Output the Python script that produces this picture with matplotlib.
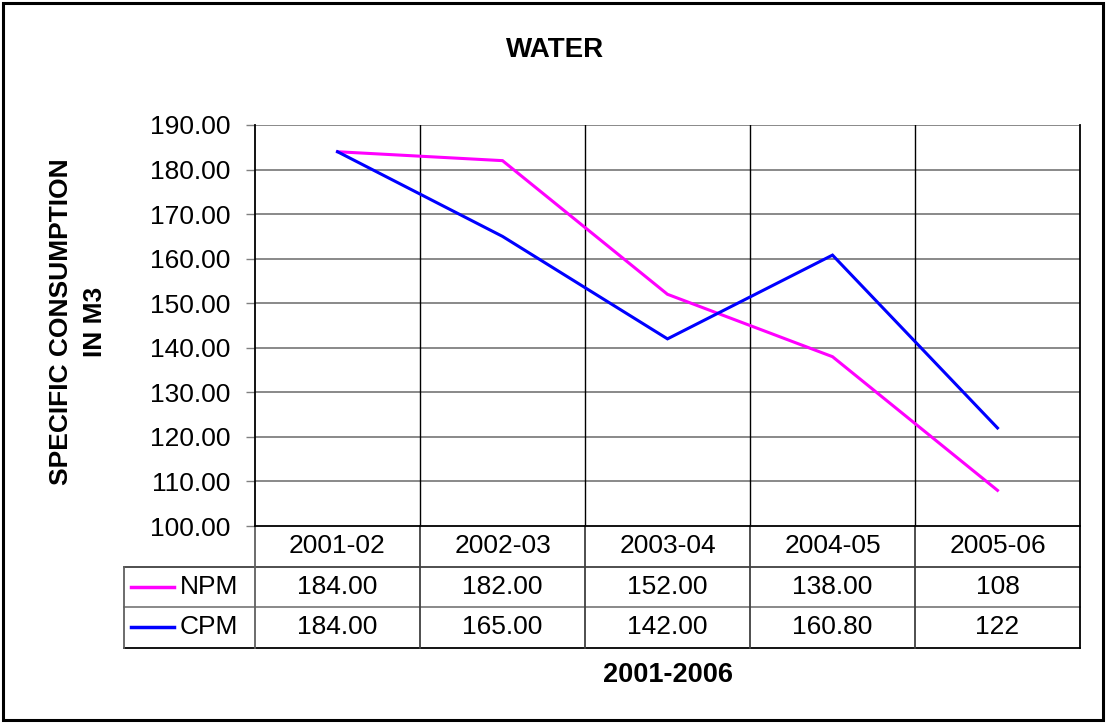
import matplotlib
matplotlib.use("Agg")
import matplotlib.pyplot as plt
import matplotlib.transforms as mtransforms
from matplotlib.patches import Rectangle
from matplotlib.lines import Line2D

periods = ["2001-02", "2002-03", "2003-04", "2004-05", "2005-06"]
npm = [184.0, 182.0, 152.0, 138.0, 108.0]
cpm = [184.0, 165.0, 142.0, 160.8, 122.0]
npm_labels = ["184.00", "182.00", "152.00", "138.00", "108"]
cpm_labels = ["184.00", "165.00", "142.00", "160.80", "122"]
y_ticks = [100, 110, 120, 130, 140, 150, 160, 170, 180, 190]

plt.rcParams['font.family'] = ['Liberation Sans', 'DejaVu Sans']
FS = 19

W, H = 1109, 723
fig = plt.figure(figsize=(W / 100, H / 100), dpi=100)
ax = fig.add_axes([255 / W, 1 - 526 / H, 825 / W, 401 / H])

x = list(range(len(periods)))
ax.plot(x, npm, color="#ff00ff", lw=2.2, solid_joinstyle="miter")
ax.plot(x, cpm, color="#0000ff", lw=2.2, solid_joinstyle="miter")

ax.set_xlim(-0.5, len(periods) - 0.5)
ax.set_ylim(100, 190)
ax.set_yticks(y_ticks)
ax.set_yticklabels([f"{v:.2f}" for v in y_ticks], fontsize=FS)
ax.tick_params(axis="y", direction="out", length=6.5, width=1, color="#808080", pad=11)
ax.set_xticks([])

# gridlines
for v in y_ticks[1:]:
    ax.axhline(v, color="#808080", lw=1.3, zorder=0)
for i in range(1, len(periods)):
    ax.axvline(i - 0.5, color="black", lw=1, zorder=0)

for s in ["left", "right", "bottom"]:
    ax.spines[s].set_color("black")
    ax.spines[s].set_linewidth(1.3)
ax.spines["top"].set_visible(False)

# data table under the plot
tr = mtransforms.blended_transform_factory(ax.transData, ax.transAxes)
row_h = 40.5 / 401
left_key = -0.5 - 131 / 165
n = len(periods)

def hline(y, x0, x1, color="black"):
    ax.add_line(Line2D([x0, x1], [y, y], transform=tr, color=color, lw=1.3, clip_on=False))

def vline(xv, y0, y1, color="black"):
    ax.add_line(Line2D([xv, xv], [y0, y1], transform=tr, color=color, lw=1.3, clip_on=False))

hline(-row_h, left_key, n - 0.5, color="#404040")
hline(-2 * row_h, left_key, n - 0.5, color="#808080")
hline(-3 * row_h, left_key, n - 0.5)
vline(-0.5, 0, -3 * row_h, color="#606060")
vline(n - 0.5, 0, -3 * row_h)
vline(left_key, -row_h, -3 * row_h, color="#606060")
for i in range(1, n):
    vline(i - 0.5, 0, -3 * row_h, color="#404040")

for i, p in enumerate(periods):
    ax.text(i, -0.5 * row_h, p, transform=tr, ha="center", va="center", fontsize=FS)
    ax.text(i, -1.5 * row_h, npm_labels[i], transform=tr, ha="center", va="center", fontsize=FS)
    ax.text(i, -2.5 * row_h, cpm_labels[i], transform=tr, ha="center", va="center", fontsize=FS)

key_x0 = left_key + 7 / 165
key_x1 = left_key + 50 / 165
for k, (name, col) in enumerate([("NPM", "#ff00ff"), ("CPM", "#0000ff")]):
    yc = -(1.5 + k) * row_h
    ax.add_line(Line2D([key_x0, key_x1], [yc, yc], transform=tr, color=col, lw=2.5, clip_on=False))
    ax.text(left_key + 56 / 165, yc, name, transform=tr, ha="left", va="center", fontsize=FS)

fig.text(555 / W, 1 - 50 / H, "WATER", ha="center", va="center", fontsize=20, fontweight="bold")
fig.text(78 / W, 1 - 322 / H, "SPECIFIC CONSUMPTION\nIN M3", ha="center", va="center",
         rotation=90, fontsize=19, fontweight="bold", linespacing=1.5)
fig.text(668 / W, 1 - 675 / H, "2001-2006", ha="center", va="center", fontsize=19.5, fontweight="bold")

# outer chart border
fig.patches.append(Rectangle((3 / W, 1 - 720 / H), 1100 / W, 717 / H, transform=fig.transFigure,
                             fill=False, edgecolor="black", lw=2.2))

fig.savefig("out.png", dpi=100)
